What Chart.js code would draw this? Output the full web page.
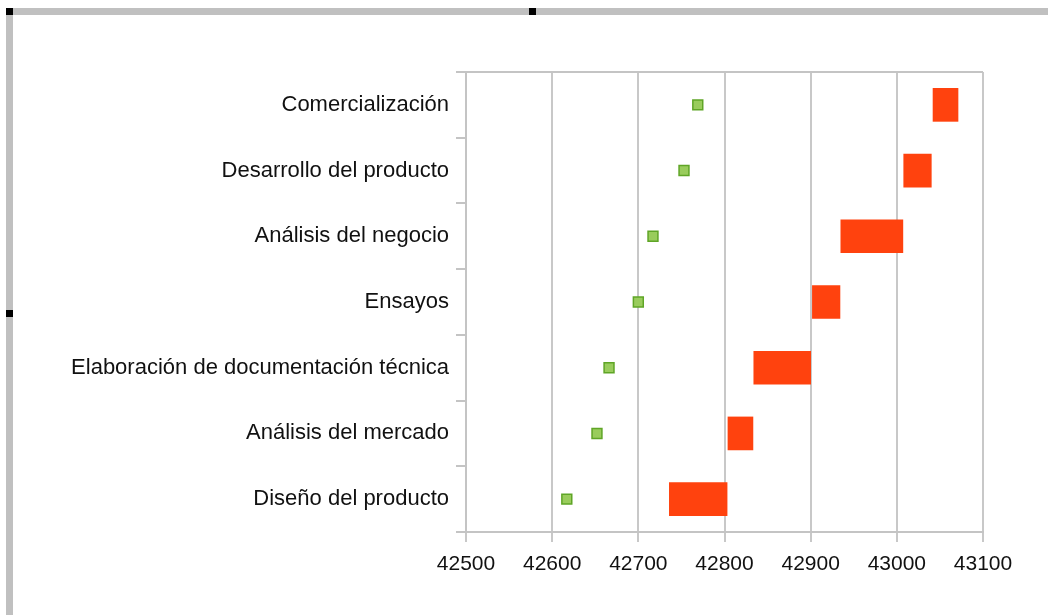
<!DOCTYPE html>
<html>
<head>
<meta charset="utf-8">
<script src="https://cdn.jsdelivr.net/npm/chart.js@4/dist/chart.umd.min.js"></script>
<style>
    html, body { margin: 0; padding: 0; background: #fff; }
    #wrap { position: relative; width: 1048px; height: 615px; overflow: hidden; }
    #chart { position: absolute; left: 0; top: 0; }
    .band-top { position: absolute; left: 6px; top: 8px; width: 1042px; height: 7px; background: #c0c0c0; }
    .band-left { position: absolute; left: 6px; top: 8px; width: 7px; height: 607px; background: #c0c0c0; }
    .handle { position: absolute; width: 7px; height: 7px; background: #000; }
</style>
</head>
<body>
<div id="wrap">
    <canvas id="chart" width="1048" height="615"></canvas>
    <div class="band-top"></div>
    <div class="band-left"></div>
    <div class="handle" style="left:6px;top:8px"></div>
    <div class="handle" style="left:529px;top:8px"></div>
    <div class="handle" style="left:6px;top:310px"></div>
</div>
<script>
// categorias de arriba a abajo
const tasks = [
    'Comercialización',
    'Desarrollo del producto',
    'Análisis del negocio',
    'Ensayos',
    'Elaboración de documentación técnica',
    'Análisis del mercado',
    'Diseño del producto'
];
const startDays = [43042, 43008, 42935, 42902, 42834, 42804, 42736];
const endDays = [43071, 43040, 43007, 42934, 42900, 42833, 42803];
const markerDays = [42769, 42753, 42717, 42700, 42666, 42652, 42617];
const xTicks = [42500, 42600, 42700, 42800, 42900, 43000, 43100];

const FONT = '"Liberation Sans", Arial, sans-serif';

document.addEventListener('DOMContentLoaded', () => {
    const ctx = document.getElementById('chart').getContext('2d');

    // linea superior del area de trazado
    const topLine = {
        id: 'topLine',
        afterDraw(chart) {
            const a = chart.chartArea;
            const c = chart.ctx;
            c.save();
            c.strokeStyle = '#c4c4c4';
            c.lineWidth = 2;
            c.beginPath();
            c.moveTo(a.left - 10, a.top);
            c.lineTo(a.right, a.top);
            c.stroke();
            c.restore();
        }
    };

    new Chart(ctx, {
        type: 'bar',
        data: {
            labels: tasks,
            datasets: [{
                type: 'bar',
                label: 'Duración',
                data: startDays.map((s, i) => [s, endDays[i]]),
                backgroundColor: '#ff420e',
                borderWidth: 0,
                barThickness: 33,
                order: 2
            }, {
                type: 'line',
                label: 'Inicio',
                indexAxis: 'y',
                data: markerDays,
                showLine: false,
                pointStyle: 'rect',
                pointRadius: 7,
                pointBackgroundColor: '#99cc5c',
                pointBorderColor: '#5fa526',
                pointBorderWidth: 1.5,
                order: 1
            }]
        },
        options: {
            indexAxis: 'y',
            responsive: false,
            animation: false,
            layout: { padding: { top: 72, right: 65, left: 0, bottom: 0 } },
            plugins: {
                legend: { display: false },
                tooltip: { enabled: false }
            },
            scales: {
                x: {
                    type: 'linear',
                    min: 42500,
                    max: 43100,
                    afterBuildTicks: (scale) => { scale.ticks = xTicks.map(v => ({ value: v })); },
                    afterFit: (scale) => { scale.height = 83; },
                    ticks: {
                        color: '#111',
                        font: { family: FONT, size: 21 },
                        padding: 10,
                        callback: (v) => String(v)
                    },
                    grid: { color: '#c8c8c8', lineWidth: 2, tickLength: 10 },
                    border: { color: '#c4c4c4', width: 2 }
                },
                y: {
                    type: 'category',
                    afterFit: (scale) => { scale.width = 466; },
                    ticks: {
                        color: '#111',
                        font: { family: FONT, size: 22 },
                        padding: 7
                    },
                    grid: { offset: true, drawOnChartArea: false, color: '#c4c4c4', lineWidth: 2, tickLength: 10 },
                    border: { color: '#c4c4c4', width: 2 }
                }
            }
        },
        plugins: [topLine]
    });
});
</script>
</body>
</html>
